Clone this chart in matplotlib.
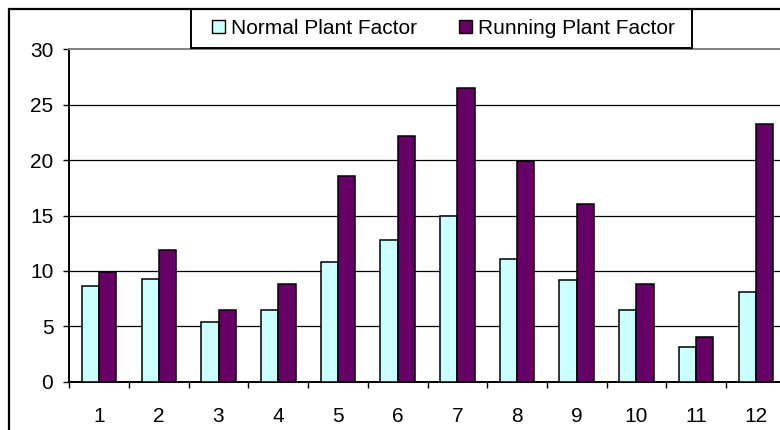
import numpy as np
import matplotlib
matplotlib.use("Agg")
import matplotlib.pyplot as plt
from matplotlib.patches import Patch, Rectangle

months = ["1", "2", "3", "4", "5", "6", "7", "8", "9", "10", "11", "12"]
normal_factor = [8.6, 9.3, 5.4, 6.5, 10.8, 12.8, 15.0, 11.1, 9.2, 6.5, 3.1, 8.1]
running_factor = [9.9, 11.9, 6.5, 8.8, 18.6, 22.2, 26.5, 19.9, 16.0, 8.8, 4.0, 23.3]
y_ticks = [0, 5, 10, 15, 20, 25, 30]

normal_color = "#CCFFFF"
running_color = "#660066"

plt.rcParams["font.family"] = ["Liberation Sans", "DejaVu Sans"]
plt.rcParams["font.size"] = 15

W, H = 780, 430
fig = plt.figure(figsize=(W / 100, H / 100), dpi=100)
fig.patch.set_facecolor("white")

# plot area runs a little past the right edge of the figure
left, right, top, bottom = 69.3, 785.7, 49.3, 381.7
ax = fig.add_axes([left / W, 1 - bottom / H, (right - left) / W, (bottom - top) / H])

x = np.arange(1, len(months) + 1)
bw = 0.29
ax.bar(x - bw / 2, normal_factor, bw, color=normal_color, edgecolor="black",
       linewidth=1.1, zorder=3, label="Normal Plant Factor")
ax.bar(x + bw / 2, running_factor, bw, color=running_color, edgecolor="black",
       linewidth=1.1, zorder=3, label="Running Plant Factor")

ax.set_xlim(0.5, len(months) + 0.5)
ax.set_ylim(0, 30)

for v in y_ticks[1:-1]:
    ax.axhline(v, color="black", linewidth=0.9, zorder=1)

ax.set_yticks(y_ticks)
ax.tick_params(axis="y", direction="out", length=4.5, width=1.0, pad=7, labelsize=15)

# category boundaries get the tick marks, labels sit between them
ax.set_xticks(np.arange(0.5, len(months) + 1, 1.0))
ax.set_xticklabels([])
ax.set_xticks(x, minor=True)
ax.set_xticklabels(months, minor=True)
ax.tick_params(axis="x", which="major", direction="out", length=4, width=1.0)
ax.tick_params(axis="x", which="minor", length=0, pad=18, labelsize=15)

for side in ["left", "bottom"]:
    ax.spines[side].set_color("black")
    ax.spines[side].set_linewidth(1.4)
for side in ["top", "right"]:
    ax.spines[side].set_color("#808080")
    ax.spines[side].set_linewidth(1.4)

# legend entries without frame, box drawn separately
handles = [Patch(facecolor=normal_color, edgecolor="black", linewidth=1.0),
           Patch(facecolor=running_color, edgecolor="black", linewidth=1.0)]
leg = fig.legend(handles, ["Normal Plant Factor", "Running Plant Factor"],
                 loc="center left", bbox_to_anchor=(212 / W, 1 - 28.5 / H),
                 ncol=2, frameon=False,
                 handlelength=0.62, handleheight=0.62, handletextpad=0.3,
                 columnspacing=2.0, borderpad=0, borderaxespad=0,
                 fontsize=15)
fig.add_artist(Rectangle((191 / W, 1 - 48 / H), 501 / W, 39 / H,
                         transform=fig.transFigure, facecolor="white",
                         edgecolor="black", linewidth=1.4, zorder=0.5))

# chart border
fig.add_artist(Rectangle((9 / W, -0.2), 1.2, 1.2 - 9 / H, transform=fig.transFigure,
                         fill=False, edgecolor="black", linewidth=1.6, clip_on=False))

fig.savefig("out.png", dpi=100)
